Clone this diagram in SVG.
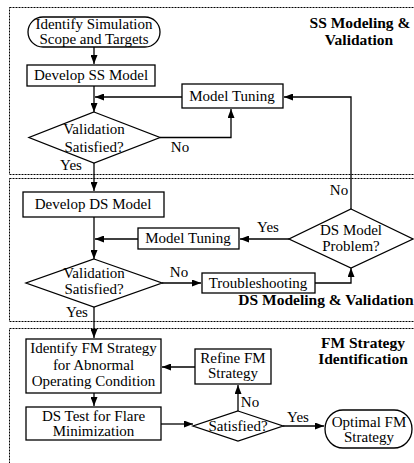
<svg xmlns="http://www.w3.org/2000/svg" width="414" height="463" viewBox="0 0 414 463">
<defs>
<marker id="ah" markerWidth="9" markerHeight="7" refX="9" refY="3.5" orient="auto" markerUnits="userSpaceOnUse">
<path d="M0,0 L9,3.5 L0,7 Z" fill="#000"/>
</marker>
<style>
.t{font-family:"Liberation Serif","Times New Roman",serif;font-size:15px;fill:#000;text-anchor:middle}
.b{font-family:"Liberation Serif","Times New Roman",serif;font-size:15.5px;font-weight:bold;fill:#000;text-anchor:middle}
.s{fill:#fff;stroke:#000;stroke-width:1.3}
.c{fill:none;stroke:#000;stroke-width:1.3}
.a{marker-end:url(#ah)}
.d{fill:none;stroke:#000;stroke-width:1;stroke-dasharray:2,1}
</style>
</defs>
<rect width="414" height="463" fill="#fff"/>
<g id="regions">
<rect class="d" x="9.5" y="7.5" width="420" height="167"/>
<rect class="d" x="9.5" y="178.5" width="420" height="143"/>
<rect class="d" x="9.5" y="328.5" width="420" height="150"/>
<text class="b" x="360" y="28">SS Modeling &amp;</text>
<text class="b" x="359" y="45">Validation</text>
<text class="b" x="326" y="305">DS Modeling &amp; Validation</text>
<text class="b" x="363" y="348">FM Strategy</text>
<text class="b" x="363" y="364">Identification</text>
</g>
<g id="connectors">
<path class="c a" d="M94,47 V64"/>
<path class="c a" d="M94,86 V112"/>
<path class="c a" d="M182,97 H95"/>
<path class="c a" d="M160,137.5 H231 V109"/>
<path class="c a" d="M351,209 V97 H284"/>
<path class="c a" d="M94,163 V191"/>
<path class="c a" d="M94,217 V259"/>
<path class="c a" d="M138,239 H95"/>
<path class="c a" d="M289,239 H240"/>
<path class="c a" d="M162,283 H201"/>
<path class="c a" d="M315,283 H351 V268"/>
<path class="c a" d="M94,307 V338"/>
<path class="c a" d="M94,393 V406"/>
<path class="c a" d="M161,424 H193"/>
<path class="c a" d="M238,411 V385"/>
<path class="c a" d="M195,367 H162"/>
<path class="c a" d="M283,426 H324"/>
<text class="t" x="180" y="152">No</text>
<text class="t" x="71" y="170">Yes</text>
<text class="t" x="339" y="195">No</text>
<text class="t" x="268" y="232">Yes</text>
<text class="t" x="179" y="277">No</text>
<text class="t" x="77" y="317">Yes</text>
<text class="t" x="250" y="407">No</text>
<text class="t" x="298" y="422">Yes</text>
</g>
<g id="start">
<rect class="s" x="28" y="17" width="132" height="30" rx="15" ry="15"/>
<text class="t" x="94" y="29">Identify Simulation</text>
<text class="t" x="94" y="44">Scope and Targets</text>
</g>
<g id="devSS">
<rect class="s" x="27" y="65" width="128" height="21"/>
<text class="t" x="91" y="80">Develop SS Model</text>
</g>
<g id="tuneSS">
<rect class="s" x="182" y="84" width="101" height="24"/>
<text class="t" x="232" y="101">Model Tuning</text>
</g>
<g id="valSS">
<polygon class="s" points="94,112 160,137.5 94,163 29,137.5"/>
<text class="t" x="94" y="134">Validation</text>
<text class="t" x="94" y="152">Satisfied?</text>
</g>
<g id="devDS">
<rect class="s" x="23" y="192" width="141" height="25"/>
<text class="t" x="93" y="209">Develop DS Model</text>
</g>
<g id="tuneDS">
<rect class="s" x="138" y="228" width="101" height="21"/>
<text class="t" x="188" y="243">Model Tuning</text>
</g>
<g id="valDS">
<polygon class="s" points="94,259 162,283 94,307 26,283"/>
<text class="t" x="94" y="278">Validation</text>
<text class="t" x="94" y="294">Satisfied?</text>
</g>
<g id="trouble">
<rect class="s" x="202" y="273" width="113" height="20"/>
<text class="t" x="258" y="288">Troubleshooting</text>
</g>
<g id="dsProblem">
<polygon class="s" points="351,209 413,239 351,268 289,239"/>
<text class="t" x="351" y="235">DS Model</text>
<text class="t" x="351" y="251">Problem?</text>
</g>
<g id="identFM">
<rect class="s" x="26" y="339" width="135" height="54"/>
<text class="t" x="93.5" y="353">Identify FM Strategy</text>
<text class="t" x="93.5" y="370">for Abnormal</text>
<text class="t" x="93.5" y="386">Operating Condition</text>
</g>
<g id="dsTest">
<rect class="s" x="26" y="407" width="135" height="33"/>
<text class="t" x="93.5" y="421">DS Test for Flare</text>
<text class="t" x="93.5" y="436">Minimization</text>
</g>
<g id="refine">
<rect class="s" x="195" y="349" width="76" height="35"/>
<text class="t" x="233" y="363">Refine FM</text>
<text class="t" x="233" y="378">Strategy</text>
</g>
<g id="satFM">
<polygon class="s" points="238,411 283,426 238,441 193,426"/>
<text class="t" x="238" y="431">Satisfied?</text>
</g>
<g id="optimal">
<rect class="s" x="325" y="410" width="87" height="38" rx="18" ry="19"/>
<text class="t" x="369" y="427">Optimal FM</text>
<text class="t" x="369" y="442">Strategy</text>
</g>
</svg>
